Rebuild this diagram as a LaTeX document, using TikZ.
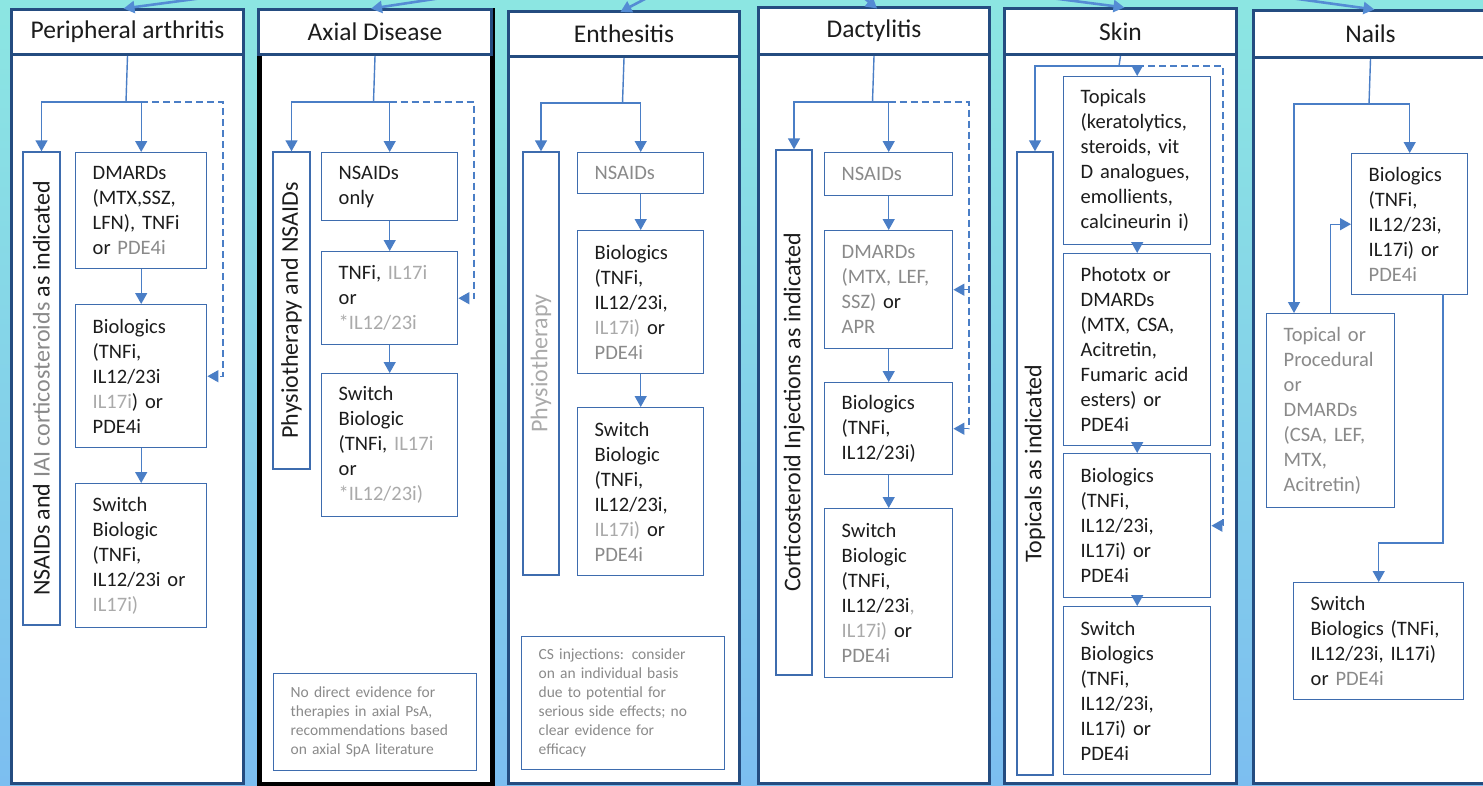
\documentclass[tikz,border=0pt]{standalone}
\usepackage{fontspec}
\setmainfont{Carlito}
\usepackage{tikz}
\usetikzlibrary{arrows.meta, positioning, calc}

\definecolor{bgtop}{RGB}{140,230,226}
\definecolor{bgbottom}{RGB}{124,190,240}
\definecolor{navy}{RGB}{36,76,128}
\definecolor{boxline}{RGB}{62,108,174}
\definecolor{flow}{RGB}{74,126,198}
\definecolor{feedblue}{RGB}{84,140,212}
\definecolor{ink}{RGB}{28,28,28}
\definecolor{muted}{RGB}{138,138,138}
\definecolor{faint}{RGB}{170,170,170}

\newcommand{\gtext}[1]{\textcolor{muted}{#1}}
\newcommand{\ptext}[1]{\textcolor{faint}{#1}}

\begin{document}
\begin{tikzpicture}[x=1pt, y=-1pt,
        panel/.style={rectangle, draw=navy, line width=3.2pt, fill=white, anchor=north west, inner sep=0pt},
        header/.style={rectangle, draw=navy, line width=3pt, fill=white, anchor=north west, inner sep=0pt, text=ink, font=\fontsize{25.5}{30}\selectfont},
        block/.style={rectangle, draw=boxline, line width=1.4pt, fill=white, anchor=north west, align=left, inner xsep=17pt, inner ysep=4pt, text=ink, font=\fontsize{20.5}{25}\selectfont},
        sidebar/.style={rectangle, draw=boxline, line width=1.4pt, fill=white, rotate=90, inner sep=0pt, text=ink, font=\fontsize{24}{28}\selectfont},
        note/.style={block, text=muted, font=\fontsize{15.5}{19}\selectfont},
        c1/.style={block, minimum width=131pt, text width=97pt},
        c2/.style={block, minimum width=136pt, text width=102pt},
        c3/.style={block, minimum width=126pt, text width=92pt},
        c4/.style={block, minimum width=128pt, text width=94pt},
        c5/.style={block, minimum width=147pt, text width=113pt},
        line/.style={draw=flow, line width=1.4pt, -{Triangle[length=11pt, width=12pt]}},
        link/.style={draw=flow, line width=1.4pt},
        retry/.style={line, dash pattern=on 7pt off 4pt},
        feed/.style={draw=feedblue, line width=2.6pt, shorten >=-4pt, -{Triangle[length=11pt, width=12pt]}}]

        \useasboundingbox (0,0) rectangle (1483,785);
        \shade [top color=bgtop, bottom color=bgbottom] (0,0) rectangle (1483,785);

        % Peripheral arthritis
        \node [panel, minimum width=232pt, minimum height=774pt] (pan1) at (10,8) {};
        \node [header, minimum width=232pt, minimum height=45pt] (hdr1) at (10,8) {Peripheral arthritis};
        \node [sidebar, minimum width=473pt, minimum height=37pt] (side1) at (41.5,388.5) {NSAIDs and \gtext{IAI corticosteroids} as indicated};
        \node [c1, minimum height=116pt] (dmard1) at (75,152) {DMARDs\\(MTX,SSZ,\\LFN), TNFi\\or \gtext{PDE4i}};
        \node [c1, minimum height=143pt] (bio1) at (75,304) {Biologics\\(TNFi,\\IL12/23i\\\ptext{IL17i}) or\\PDE4i};
        \node [c1, minimum height=144pt] (switch1) at (75,483) {Switch\\Biologic\\(TNFi,\\IL12/23i or\\\ptext{IL17i)}};

        % Axial disease
        \node [panel, draw=black, line width=4.5pt, minimum width=233pt, minimum height=774pt] (pan2) at (257,8) {};
        \node [header, minimum width=233pt, minimum height=45pt] (hdr2) at (257,8) {Axial Disease};
        \node [sidebar, minimum width=317pt, minimum height=37pt] (side2) at (291.5,310.5) {Physiotherapy and NSAIDs};
        \node [c2, minimum height=68pt] (nsaid2) at (321,152) {NSAIDs\\only};
        \node [c2, minimum height=93pt] (tnf2) at (321,251) {TNFi, \ptext{IL17i}\\or\\\ptext{*IL12/23i}};
        \node [c2, minimum height=143pt] (switch2) at (321,373) {Switch\\Biologic\\(TNFi, \ptext{IL17i}\\or\\\ptext{*IL12/23i)}};
        \node [note, minimum width=203pt, minimum height=97pt, text width=169pt] (note2) at (273,673) {No direct evidence for\\therapies in axial PsA,\\recommendations based\\on axial SpA literature};

        % Enthesitis
        \node [panel, minimum width=231pt, minimum height=772pt] (pan3) at (507,10) {};
        \node [header, minimum width=231pt, minimum height=45pt] (hdr3) at (507,10) {Enthesitis};
        \node [sidebar, text=faint, minimum width=423pt, minimum height=36pt] (side3) at (541,363.5) {Physiotherapy};
        \node [c3, text=muted, minimum height=41pt] (nsaid3) at (577,152) {NSAIDs};
        \node [c3, minimum height=143pt] (bio3) at (577,230) {Biologics\\(TNFi,\\IL12/23i,\\\ptext{IL17i)} or\\\gtext{PDE4i}};
        \node [c3, minimum height=168pt] (switch3) at (577,407) {Switch\\Biologic\\(TNFi,\\IL12/23i,\\\ptext{IL17i)} or\\\gtext{PDE4i}};
        \node [note, minimum width=203pt, minimum height=133pt, text width=169pt] (note3) at (521,636) {CS injections: consider\\on an individual basis\\due to potential for\\serious side effects; no\\clear evidence for\\efficacy};

        % Dactylitis
        \node [panel, minimum width=231pt, minimum height=776pt] (pan4) at (757,6) {};
        \node [header, minimum width=231pt, minimum height=47pt] (hdr4) at (757,6) {Dactylitis};
        \node [sidebar, minimum width=525pt, minimum height=36pt] (side4) at (794,412.5) {Corticosteroid Injections as indicated};
        \node [c4, text=muted, minimum height=43pt] (nsaid4) at (824,152) {NSAIDs};
        \node [c4, text=muted, minimum height=118pt] (dmard4) at (824,230) {DMARDs\\(MTX, LEF,\\SSZ) \textcolor{ink}{or}\\APR};
        \node [c4, minimum height=92pt] (bio4) at (824,382) {Biologics\\(TNFi,\\IL12/23i)};
        \node [c4, minimum height=169pt] (switch4) at (824,508) {Switch\\Biologic\\(TNFi,\\IL12/23i\ptext{,}\\\ptext{IL17i)} or\\\gtext{PDE4i}};

        % Skin
        \node [panel, minimum width=232pt, minimum height=775pt] (pan5) at (1003,7) {};
        \node [header, minimum width=232pt, minimum height=46pt] (hdr5) at (1003,7) {Skin};
        \node [sidebar, minimum width=623pt, minimum height=36pt] (side5) at (1035,463.5) {Topicals as indicated};
        \node [c5, minimum height=168pt] (topical5) at (1063,76) {Topicals\\(keratolytics,\\steroids, vit\\D analogues,\\emollients,\\calcineurin i)};
        \node [c5, minimum height=192pt] (photo5) at (1063,253) {Phototx or\\DMARDs\\(MTX, CSA,\\Acitretin,\\Fumaric acid\\esters) or\\PDE4i};
        \node [c5, minimum height=144pt] (bio5) at (1063,453) {Biologics\\(TNFi,\\IL12/23i,\\IL17i) or\\PDE4i};
        \node [c5, minimum height=168pt] (switch5) at (1063,606) {Switch\\Biologics\\(TNFi,\\IL12/23i,\\IL17i) or\\PDE4i};

        % Nails
        \node [panel, minimum width=234pt, minimum height=773pt] (pan6) at (1252,9) {};
        \node [header, minimum width=234pt, minimum height=47pt] (hdr6) at (1252,9) {Nails};
        \node [block, minimum width=116pt, text width=82pt, minimum height=141pt] (bio6) at (1351,153) {Biologics\\(TNFi,\\IL12/23i,\\IL17i) or\\\gtext{PDE4i}};
        \node [block, text=muted, minimum width=128pt, text width=94pt, minimum height=194pt] (topical6) at (1266,313) {Topical or\\Procedural\\or\\DMARDs\\(CSA, LEF,\\MTX,\\Acitretin)};
        \node [block, minimum width=170pt, text width=136pt, minimum height=117pt] (switch6) at (1293,582) {Switch\\Biologics (TNFi,\\IL12/23i, IL17i)\\or \gtext{PDE4i}};

        % Branch points
        \coordinate (fork1) at (126,102);
        \coordinate (back1) at (223,102);
        \coordinate (fork2) at (373.5,102);
        \coordinate (back2) at (474,102);
        \coordinate (fork3) at (622.5,103);
        \coordinate (fork4) at (872.5,102);
        \coordinate (back4) at (969,102);
        \coordinate (fork5) at (1119,66);
        \coordinate (back5) at (1223,66);
        \coordinate (fork6) at (1369,104);
        \coordinate (left6) at (1294,104);
        \coordinate (drop6) at (1443,294);

        % Connections
        \path [link] (hdr1.south) -- (fork1);
        \path [line] (fork1) -| (side1.east);
        \path [line] (fork1) -| (dmard1.north);
        \path [retry] (fork1 -| dmard1.north) -- (back1) |- (bio1.east);
        \path [line] (dmard1) -- (bio1);
        \path [line] (bio1) -- (switch1);

        \path [link] (hdr2.south) -- (fork2);
        \path [line] (fork2) -| (side2.east);
        \path [line] (fork2) -| (nsaid2.north);
        \path [retry] (fork2 -| nsaid2.north) -- (back2) |- (tnf2.east);
        \path [line] (nsaid2) -- (tnf2);
        \path [line] (tnf2) -- (switch2);

        \path [link] (hdr3.south) -- (fork3);
        \path [line] (fork3) -| (side3.east);
        \path [line] (fork3) -| (nsaid3.north);
        \path [line] (nsaid3) -- (bio3);
        \path [line] (bio3) -- (switch3);

        \path [link] (hdr4.south) -- (fork4);
        \path [line] (fork4) -| (side4.east);
        \path [line] (fork4) -| (nsaid4.north);
        \path [retry] (fork4 -| nsaid4.north) -- (back4) |- (bio4.east);
        \path [retry] (back4 |- dmard4.east) -- (dmard4.east);
        \path [line] (nsaid4) -- (dmard4);
        \path [line] (dmard4) -- (bio4);
        \path [line] (bio4) -- (switch4);

        \path [link] (hdr5.south) -- (fork5);
        \path [line] (fork5) -| (side5.east);
        \path [line] (fork5) -| (topical5.north);
        \path [retry] (fork5 -| topical5.north) -- (back5) |- (bio5.east);
        \path [line] (topical5) -- (photo5);
        \path [line] (photo5) -- (bio5);
        \path [line] (bio5) -- (switch5);

        \path [link] (hdr6.south) -- (fork6);
        \path [line] (fork6) -| (bio6.north);
        \path [line] (fork6) -- (left6) -- (left6 |- topical6.north);
        \path [line] (topical6.north) |- (bio6.west);
        \path [line] (drop6) -- ++(0,249) -| (switch6.north);

        % Incoming arrows from above
        \coordinate (src1) at (330,-19);
        \coordinate (src2) at (560,-20);
        \coordinate (src3) at (700,-30);
        \coordinate (src4) at (830,-30);
        \coordinate (src5) at (920,-19);
        \coordinate (src6) at (1160,-20);
        \path [feed] (src1) -- (hdr1.north);
        \path [feed] (src2) -- (hdr2.north);
        \path [feed] (src3) -- (hdr3.north);
        \path [feed] (src4) -- (hdr4.north);
        \path [feed] (src5) -- (hdr5.north);
        \path [feed] (src6) -- (hdr6.north);

    \end{tikzpicture}
\end{document}
